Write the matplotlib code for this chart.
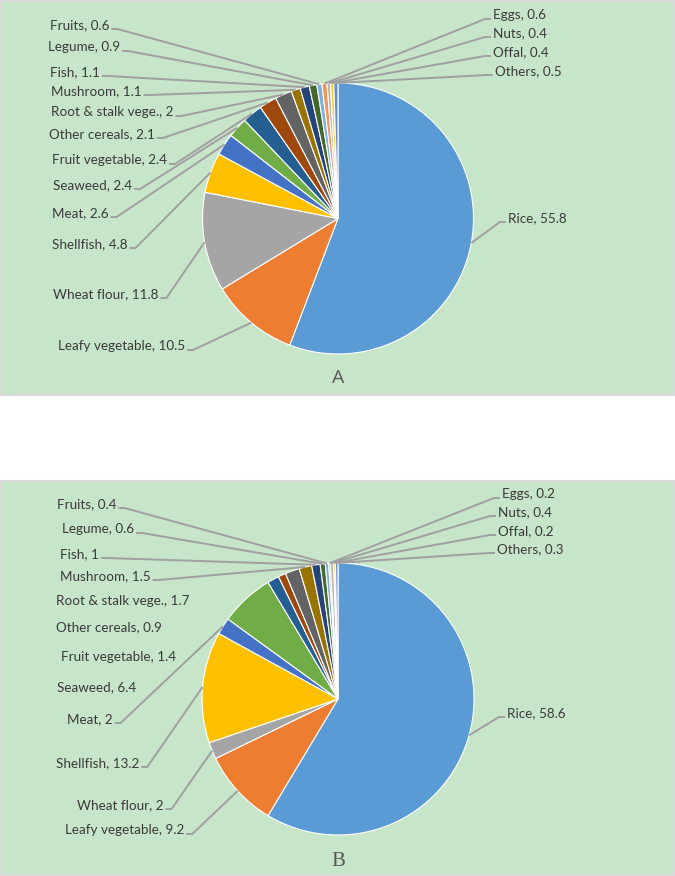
import numpy as np
import matplotlib
matplotlib.use('Agg')
import matplotlib.pyplot as plt
from matplotlib.patches import Rectangle

# categories in slice order (clockwise from 12 o'clock)
categories = ['Rice', 'Leafy vegetable', 'Wheat flour', 'Shellfish', 'Meat', 'Seaweed',
              'Fruit vegetable', 'Other cereals', 'Root & stalk vege.', 'Mushroom', 'Fish',
              'Legume', 'Fruits', 'Eggs', 'Nuts', 'Offal', 'Others']

values_a = [55.8, 10.5, 11.8, 4.8, 2.6, 2.4, 2.4, 2.1, 2, 1.1, 1.1, 0.9, 0.6, 0.6, 0.4, 0.4, 0.5]
values_b = [58.6, 9.2, 2, 13.2, 2, 6.4, 1.4, 0.9, 1.7, 1.5, 1, 0.6, 0.4, 0.2, 0.4, 0.2, 0.3]

value_text_a = ['55.8', '10.5', '11.8', '4.8', '2.6', '2.4', '2.4', '2.1', '2', '1.1', '1.1',
                '0.9', '0.6', '0.6', '0.4', '0.4', '0.5']
value_text_b = ['58.6', '9.2', '2', '13.2', '2', '6.4', '1.4', '0.9', '1.7', '1.5', '1',
                '0.6', '0.4', '0.2', '0.4', '0.2', '0.3']

colors = ['#5B9BD5', '#ED7D31', '#A5A5A5', '#FFC000', '#4472C4', '#70AD47', '#255E91',
          '#9E480E', '#636363', '#997300', '#264478', '#43682B', '#7CAFDD', '#F1975A',
          '#B7B7B7', '#FFCD33', '#698ED0']

# label layout in image pixels: (left x, centre y, side)
label_pos_a = [(508, 218, 'R'), (58, 346, 'L'), (53, 294, 'L'), (52, 244, 'L'), (52, 213, 'L'),
               (53, 185, 'L'), (52, 160, 'L'), (49, 134, 'L'), (51, 112, 'L'), (51, 91, 'L'),
               (50, 72, 'L'), (48, 47, 'L'), (50, 25, 'L'), (493, 15, 'R'), (493, 33, 'R'),
               (493, 52, 'R'), (495, 71, 'R')]
label_pos_b = [(507, 713, 'R'), (65, 830, 'L'), (77, 805, 'L'), (56, 763, 'L'), (67, 719, 'L'),
               (57, 687, 'L'), (61, 657, 'L'), (56, 627, 'L'), (56, 601, 'L'), (60, 576, 'L'),
               (60, 554, 'L'), (62, 529, 'L'), (57, 504, 'L'), (502, 494, 'R'), (498, 512, 'R'),
               (498, 531, 'R'), (497, 549, 'R')]
no_line_b = ['Seaweed', 'Fruit vegetable', 'Other cereals', 'Root & stalk vege.']

W, H = 675, 876
BG = '#C7E5C9'
TXT = '#3A3A3A'
LINE = '#A0A0A0'


def py(y):
    return H - y


fig = plt.figure(figsize=(6.75, 8.76), dpi=100)
ax = fig.add_axes([0, 0, 1, 1])

ax.add_patch(Rectangle((1, py(395)), W - 2, 394, fc=BG, ec='#D9D9D9', lw=1.5, zorder=0))
ax.add_patch(Rectangle((1, 1), W - 2, py(481) - 1, fc=BG, ec='#D9D9D9', lw=1.5, zorder=0))

panels = [
    (values_a, value_text_a, label_pos_a, (338, 218.5), 135.5, []),
    (values_b, value_text_b, label_pos_b, (338, 699), 136, no_line_b),
]

drawn = []
for vals, vtxt, lpos, (cx, cy), r, skip in panels:
    wedges, _ = ax.pie(vals, colors=colors, startangle=90, counterclock=False,
                       center=(cx, py(cy)), radius=r,
                       wedgeprops=dict(edgecolor='white', linewidth=0.8))
    for cat, vt, (lx, ly, side), w in zip(categories, vtxt, lpos, wedges):
        t = ax.text(lx, py(ly), cat + ', ' + vt, ha='left', va='center',
                    fontsize=9.7, family='Lato', color=TXT, zorder=5)
        mid = np.deg2rad((w.theta1 + w.theta2) / 2)
        tip = (w.center[0] + w.r * np.cos(mid), w.center[1] + w.r * np.sin(mid))
        if cat not in skip:
            drawn.append((t, side, tip))

ax.text(338, py(378), 'A', ha='center', va='center', fontsize=14, family='Open Sans',
        color='#595959')
ax.text(338, py(861), 'B', ha='center', va='center', fontsize=15, family='Liberation Serif',
        color='#595959')

ax.set_xlim(0, W)
ax.set_ylim(0, H)
ax.set_aspect('auto')
ax.axis('off')

# leader lines from the label edge to the middle of each slice's rim
fig.canvas.draw()
rend = fig.canvas.get_renderer()
inv = ax.transData.inverted()
for t, side, tip in drawn:
    bb = t.get_window_extent(rend)
    (x0, y0), (x1, y1) = inv.transform([(bb.x0, bb.y0), (bb.x1, bb.y1)])
    yl = (y0 + y1) / 2 - 4
    if side == 'L':
        xs = [x1 + 2, x1 + 8, tip[0]]
    else:
        xs = [x0 - 2, x0 - 8, tip[0]]
    ax.plot(xs, [yl, yl, tip[1]], color=LINE, lw=1.4, zorder=4, solid_capstyle='butt')

fig.savefig('out.png', dpi=100, facecolor='white')
